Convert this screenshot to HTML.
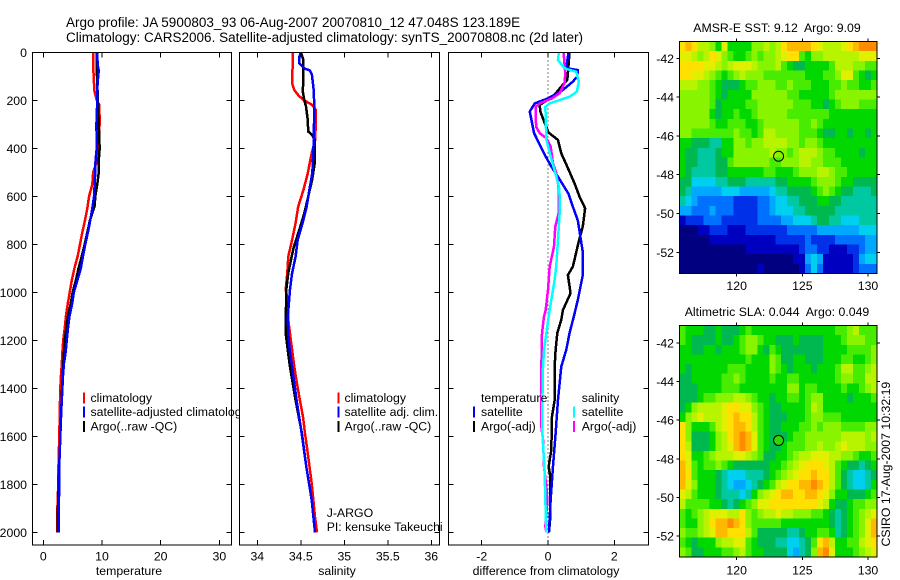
<!DOCTYPE html>
<html>
<head>
<meta charset="utf-8">
<title>Argo profile 5900803_93</title>
<style>
html,body{margin:0;padding:0;background:#fff;}
svg{display:block;}
text{font-family:"Liberation Sans",sans-serif;font-size:12.3px;fill:#000;white-space:pre;}
</style>
</head>
<body>
<svg id="chart" width="900" height="580" viewBox="0 0 900 580" xmlns="http://www.w3.org/2000/svg">
<rect width="900" height="580" fill="#fff"/>
<text x="66" y="27" style="font-size:13.5px">Argo profile: JA 5900803_93 06-Aug-2007 20070810_12 47.048S 123.189E</text>
<text x="66" y="42" style="font-size:13.5px">Climatology: CARS2006. Satellite-adjusted climatology: synTS_20070808.nc (2d later)</text>
<text transform="translate(890,546.5) rotate(-90)">CSIRO 17-Aug-2007 10:32:19</text>
</svg>
<script>
// ---- shared axis ticks ----
const depthTicks = [0,200,400,600,800,1000,1200,1400,1600,1800,2000];
const tempTicks = [0,10,20,30];
const salTicks = [34,34.5,35,35.5,36];
const diffTicks = [-2,0,2];
const lonTicks = [120,125,130];
const latTicks = [-42,-44,-46,-48,-50,-52];

// ---- temperature panel ----
const tempClimDepth = [0,60,160,180,200,220,300,400,450,500,550,600,650,700,750,800,850,900,950,1000,1050,1100,1150,1200,1250,1300,1350,1400,1500,1600,1700,1800,1900,2000];
const tempClimValues = [8.5,8.5,8.7,8.9,9.1,9.55,9.6,9.3,9.2,8.5,8.35,7.8,7.5,7.1,6.65,6.25,5.85,5.3,4.85,4.5,4.15,3.85,3.65,3.4,3.25,3.15,3.0,2.9,2.8,2.73,2.6,2.55,2.4,2.4];
const tempSatDepth = [0,50,75,100,150,200,300,400,450,500,550,600,650,700,750,800,850,900,950,1000,1050,1100,1150,1200,1250,1300,1350,1400,1500,1600,1700,1800,1900,2000];
const tempSatValues = [9.2,9.25,9.45,9.35,9.2,9.2,9.05,9.1,8.9,8.85,8.75,8.65,8.35,8.0,7.6,7.15,6.75,6.4,5.8,5.2,4.9,4.45,4.2,4.0,3.8,3.5,3.35,3.25,3.05,2.9,2.75,2.7,2.65,2.65];
const tempArgoDepth = [0,100,200,300,400,450,500,550,600,640,700,800,850,900,950,1000,1050,1100,1200,1300,1400,1500,1600,1700,1900,2000];
const tempArgoValues = [9.1,9.15,9.3,9.45,9.6,9.45,9.45,9.2,8.85,8.75,7.95,7.05,6.55,6.0,5.55,5.0,4.65,4.2,3.65,3.4,3.2,3.05,2.9,2.75,2.5,2.5];

// ---- salinity panel ----
const salClimDepth = [0,129,157,178,199,219,240,365,420,504,574,643,712,782,851,920,990,1032,1115,1170,1240,1310,1380,1450,1518,1588,1657,1726,1796,1865,1935,2000];
const salClimValues = [34.41,34.40,34.425,34.47,34.53,34.63,34.674,34.667,34.625,34.58,34.53,34.47,34.44,34.40,34.356,34.345,34.326,34.35,34.356,34.375,34.40,34.425,34.456,34.49,34.525,34.548,34.575,34.60,34.625,34.644,34.663,34.686];
const salSatDepth = [0,18,46,67,76,94,157,226,337,420,504,574,643,712,782,851,920,990,1060,1100,1170,1240,1310,1450,1588,1726,1865,2000];
const salSatValues = [34.5,34.483,34.483,34.54,34.605,34.628,34.648,34.655,34.65,34.644,34.632,34.598,34.567,34.52,34.464,34.44,34.40,34.375,34.36,34.349,34.356,34.372,34.40,34.452,34.51,34.563,34.625,34.663];
const salArgoDepth = [0,32,129,157,199,226,282,330,344,365,462,532,671,740,810,851,920,990,1060,1170,1240,1310,1450,1588,1726,1865,2000];
const salArgoValues = [34.5,34.53,34.53,34.52,34.54,34.56,34.58,34.585,34.63,34.66,34.66,34.63,34.54,34.483,34.42,34.395,34.356,34.333,34.33,34.326,34.35,34.375,34.44,34.513,34.563,34.625,34.663];

// ---- difference panel ----
const diffTempSatDepth = [0,46,67,74,101,122,157,192,213,247,337,434,476,518,590,632,701,771,833,928,1032,1100,1170,1240,1310,1450,1588,1726,1865,2000];
const diffTempSatValues = [0.62,0.57,0.58,0.9,0.88,0.75,0.45,0,-0.4,-0.55,-0.42,-0.07,0.1,0.3,0.62,0.72,0.9,0.98,1.05,1.05,0.9,0.78,0.65,0.55,0.4,0.3,0.23,0.15,0.08,0.03];
const diffTempArgoDepth = [0,88,115,143,185,219,247,295,335,365,421,476,546,601,650,725,793,893,928,1004,1074,1115,1170,1240,1310,1450,1518,1657,1726,1768,1935,2000];
const diffTempArgoValues = [0.65,0.6,0.58,0.4,0.15,-0.25,-0.23,-0.1,0.02,0.3,0.4,0.58,0.8,0.95,1.12,1.05,0.92,0.75,0.6,0.68,0.45,0.4,0.28,0.23,0.2,0.2,0.12,0.1,0.02,0.07,0.07,0.03];
const diffSalArgoDepth = [0,88,129,171,192,213,227,310,337,358,393,462,503,574,671,726,810,893,990,1074,1100,1170,1310,1450,1560,1615,1726,1810,1865,1976,2000];
const diffSalArgoValues = [0.47,0.52,0.5,0.35,0.12,-0.25,-0.37,-0.36,-0.25,-0.05,0.08,0.15,0.25,0.33,0.32,0.22,0.18,0.05,0,-0.07,-0.12,-0.18,-0.2,-0.2,-0.2,-0.15,-0.12,-0.05,-0.02,-0.08,-0.05];
const diffSalSatDepth = [0,32,67,81,122,164,185,199,213,227,268,365,434,503,560,615,671,782,890,948,1032,1100,1170,1240,1310,1450,1588,1657,1754,1865,2000];
const diffSalSatValues = [0.33,0.3,0.5,0.85,0.93,0.87,0.65,0.35,0.05,-0.08,-0.07,-0.05,0.08,0.22,0.33,0.36,0.35,0.3,0.25,0.2,0.1,0.02,-0.05,-0.12,-0.15,-0.17,-0.17,-0.14,-0.1,-0.08,-0.05];

// ---- map grids (colour levels, north to south, west to east) ----
const sstGrid = [
[13,14,13,11,11,10,8,12,8,8,8,8,10,10,11,10,11,13,14,14,14,14,13,12,11,11,11,12,13,14,15,15,15],
[12,12,11,10,11,13,12,10,9,8,8,9,10,9,10,10,11,12,13,13,9,8,10,10,11,11,11,11,11,11,12,12,12],
[13,13,13,13,12,12,11,10,11,12,12,12,11,10,10,10,11,9,8,7,7,8,8,8,8,9,11,11,11,10,10,9,9],
[13,13,12,12,11,10,9,8,9,10,11,10,10,10,9,9,9,9,9,9,9,8,8,8,9,9,10,12,12,9,8,7,8],
[11,11,11,10,10,9,8,7,7,7,8,9,9,10,10,10,9,9,10,9,9,9,8,8,8,9,9,10,9,9,8,8,9],
[10,10,10,10,10,9,8,7,8,8,8,8,10,10,10,10,10,10,9,9,8,8,8,8,8,9,10,10,10,10,10,10,10],
[10,10,10,10,10,9,7,8,8,8,8,9,9,10,10,10,10,10,10,9,9,9,8,8,7,8,9,10,10,10,9,9,9],
[10,10,10,10,10,8,7,8,8,9,8,8,9,10,10,10,10,10,9,9,9,9,9,9,9,8,8,8,8,8,8,8,8],
[10,10,10,10,10,9,8,8,9,9,9,8,8,9,10,10,10,10,10,10,9,9,10,9,8,8,8,8,8,8,8,8,8],
[10,10,9,9,9,9,9,9,9,10,9,9,8,9,11,11,10,10,10,10,9,9,9,8,7,7,8,8,7,8,8,7,8],
[8,8,7,7,7,6,6,8,8,10,10,9,10,10,11,11,11,11,10,10,9,10,10,9,8,8,8,8,8,8,8,8,8],
[8,7,7,6,6,6,7,8,8,10,10,10,10,10,10,11,10,10,9,10,11,11,11,10,9,9,8,8,8,8,7,8,8],
[8,7,7,6,6,6,7,7,9,10,10,10,10,10,10,9,9,10,10,10,11,11,10,10,9,9,9,8,8,8,8,8,8],
[8,7,6,6,6,6,7,7,8,8,8,8,8,8,9,9,8,8,8,9,10,10,10,11,11,10,9,9,8,8,8,8,8],
[7,7,5,5,5,5,6,6,7,7,7,6,6,6,6,6,7,7,8,8,8,8,9,10,10,10,9,8,8,7,7,7,7],
[7,6,4,4,4,4,4,5,5,5,4,4,4,4,4,5,6,6,7,7,7,7,8,9,10,9,8,7,7,6,6,6,7],
[6,5,4,3,3,3,3,3,3,2,2,2,2,3,3,4,5,5,6,6,7,7,7,8,8,7,7,6,6,6,6,6,6],
[4,4,3,3,3,4,3,3,3,2,2,2,2,3,3,4,5,5,5,6,6,7,7,7,7,7,6,6,6,6,6,6,6],
[1,2,2,2,3,3,3,2,2,2,2,2,2,3,3,3,3,4,4,5,5,5,6,7,7,6,6,5,5,5,6,6,6],
[0,0,0,1,1,2,2,2,1,1,1,2,2,2,2,2,2,2,3,3,3,3,3,4,4,4,4,4,4,4,5,5,5],
[0,0,0,0,0,1,1,1,1,1,1,1,1,1,1,1,2,2,2,2,2,3,2,2,2,2,3,3,3,3,3,4,4],
[0,0,0,0,0,0,0,0,0,0,0,1,1,1,1,1,1,1,1,1,2,3,3,2,2,1,1,1,2,2,3,4,4],
[0,0,0,0,0,0,0,0,0,0,0,0,0,0,0,0,0,0,0,1,1,4,5,4,1,1,1,1,1,2,4,5,5],
[0,0,0,0,0,0,0,0,0,0,0,0,0,1,0,0,0,0,0,0,1,3,5,3,1,1,1,1,1,2,3,3,3]
];
const slaGrid = [
[9,8,8,8,7,7,8,7,7,7,8,9,8,8,8,8,8,8,8,8,8,8,8,8,8,8,9,9,10,11,9,9,9],
[9,8,7,7,7,7,8,7,7,8,9,10,10,9,8,8,7,7,7,8,7,7,7,7,8,8,8,9,10,10,10,9,9],
[8,8,7,7,8,8,7,8,8,8,9,10,10,8,7,9,8,7,7,7,7,7,7,7,8,8,8,8,9,9,9,9,10],
[8,8,8,8,8,8,8,8,8,8,8,9,8,8,8,10,9,7,7,8,8,7,7,7,8,8,8,9,9,8,8,9,10],
[8,7,8,8,8,8,8,8,9,9,9,8,8,8,8,10,9,8,7,8,8,8,7,8,8,8,9,11,11,9,9,10,11],
[7,7,8,8,8,8,8,9,9,10,9,8,8,8,8,9,8,8,9,9,8,8,8,8,8,8,9,10,10,9,9,11,11],
[7,7,7,8,8,8,8,9,9,9,8,8,8,8,8,8,8,8,10,10,8,9,9,8,8,8,8,9,8,8,9,10,11],
[7,7,7,8,9,9,10,10,10,11,11,10,9,8,8,7,8,8,9,9,8,9,10,10,8,8,8,8,7,8,8,8,9],
[7,8,10,11,11,11,11,12,13,13,12,12,10,9,8,7,7,8,8,8,8,9,11,10,8,8,8,8,8,8,8,8,8],
[8,10,11,12,11,11,11,12,13,14,13,13,11,9,8,7,7,7,8,8,8,9,10,10,9,9,9,8,8,8,8,8,8],
[13,10,8,8,8,9,11,12,13,14,14,13,11,9,8,7,7,8,8,8,9,9,10,9,10,10,10,9,9,9,9,10,10],
[13,10,7,7,7,8,10,11,13,14,15,14,12,9,8,7,7,7,8,9,9,10,10,10,10,10,10,11,11,11,11,10,11],
[13,11,7,7,7,8,10,11,12,14,15,14,12,9,8,7,7,8,9,9,9,10,10,11,10,10,11,12,11,11,11,10,10],
[13,12,8,8,9,10,11,11,11,12,12,11,10,9,7,7,8,8,9,10,11,11,12,12,12,11,11,10,10,9,8,8,9],
[14,12,9,8,9,9,10,9,8,7,7,7,7,7,7,8,8,9,10,11,12,13,13,13,12,11,9,8,7,7,6,7,8],
[14,13,9,8,8,8,7,6,5,5,5,6,6,6,7,8,9,10,11,12,13,13,14,13,13,11,9,7,6,5,5,6,7],
[14,12,10,8,8,8,7,6,5,4,4,5,6,7,8,9,11,12,13,13,14,14,15,14,13,11,9,7,6,5,5,6,8],
[12,11,9,8,8,8,7,6,6,6,5,6,8,10,11,12,13,14,14,13,13,14,14,13,12,10,8,8,7,7,7,8,9],
[11,9,9,9,9,8,8,7,6,7,8,9,10,12,12,13,13,13,13,13,13,13,13,12,11,8,7,7,8,9,9,10,10],
[9,8,9,10,11,12,12,12,11,11,13,10,9,10,11,11,12,11,11,10,10,10,9,9,8,7,6,7,8,9,10,11,12],
[9,8,8,10,11,13,14,14,15,14,13,10,9,9,9,9,9,8,8,8,8,8,8,8,8,7,6,7,8,9,10,12,14],
[10,9,9,10,11,12,14,14,13,13,13,11,9,7,7,7,7,7,6,6,7,8,8,9,9,8,6,7,8,9,10,12,14],
[9,8,7,8,8,8,10,11,11,12,12,9,8,7,7,7,6,6,5,5,6,7,9,13,14,11,8,8,9,9,11,12,13],
[10,9,7,7,8,8,8,9,9,10,11,9,8,8,7,7,7,7,5,4,6,7,10,14,15,12,8,8,8,9,10,11,12]
];
const floatLon = [123.189];
const floatLat = [-47.048];
</script>
<script>
const SVG_NS = 'http://www.w3.org/2000/svg';
const root = document.getElementById('chart');
const levelColors = ['#000080','#0000c0','#0030e8','#0070ff','#00a8ff','#00d0f0','#00c8a0','#00b850','#00d800','#48ec00','#88f400','#b8f400','#e0f000','#ffe000','#ffb800','#ff8c00'];

function make(tag, parent, attrs) {
  const el = document.createElementNS(SVG_NS, tag);
  for (const k in attrs) el.setAttribute(k, attrs[k]);
  parent.appendChild(el);
  return el;
}
function linear(d0, p0, d1, p1) {
  return function (v) { return p0 + (v - d0) * (p1 - p0) / (d1 - d0); };
}
function label(parent, name, x, y, str, anchor) {
  const t = make('text', parent, { x: x, y: y, 'text-anchor': anchor || 'start' });
  
  
  t.textContent = str;
  return t;
}
function tick(parent, x1, y1, x2, y2) {
  const l = make('line', parent, { x1: x1, y1: y1, x2: x2, y2: y2, stroke: '#000', 'stroke-width': 1, 'shape-rendering': 'crispEdges' });
  
  
}
function frame(parent, box, fill) {
  const r = make('rect', parent, { x: box.l, y: box.t, width: box.r - box.l, height: box.b - box.t, fill: fill, stroke: fill === 'none' ? '#000' : 'none', 'stroke-width': 1, 'shape-rendering': 'crispEdges' });
  
  
}
function seriesLine(parent, name, depths, values, xFn, yFn, color) {
  const pts = depths.map(function (d, i) { return xFn(values[i]).toFixed(2) + ',' + yFn(d).toFixed(2); }).join(' ');
  const p = make('polyline', parent, { points: pts, fill: 'none', stroke: color, 'stroke-width': 2.5, 'stroke-linejoin': 'round', 'shape-rendering': 'crispEdges' });
  
  
}
function legendBar(parent, x, yc, color) {
  const r = make('rect', parent, { x: x, y: yc - 5.5, width: 2, height: 11, fill: color, 'shape-rendering': 'crispEdges' });
  
  
}

const TOP = 52.3, BOTTOM = 545;
const depthY = linear(0, 52.3, 2000, 532.3);

function profilePanel(name, l, r, xFn, xTicks, xLabel, xLabelX, showDepthLabels) {
  const g = make('g', root, {});
  
  
  const box = { l: l, r: r, t: TOP, b: BOTTOM };
  frame(g, box, '#fff');
  return { g: g, box: box, xFn: xFn, xTicks: xTicks, xLabel: xLabel, xLabelX: xLabelX, showDepthLabels: showDepthLabels };
}
function finishPanel(p) {
  const g = p.g, box = p.box;
  frame(g, box, 'none');
  depthTicks.forEach(function (d) {
    const y = depthY(d);
    tick(g, box.r - 5, y, box.r, y);
    tick(g, box.l, y, box.l + 5, y);
    if (p.showDepthLabels) label(g, 'depth-tick-label', 27, y + 4.5, String(d), 'end');
  });
  p.xTicks.forEach(function (v) {
    const x = p.xFn(v);
    tick(g, x, box.t, x, box.t + 5);
    tick(g, x, box.b - 5, x, box.b);
    label(g, 'x-tick-label', x, 560.5, String(v), 'middle');
  });
  label(g, 'x-axis-title', p.xLabelX, 575, p.xLabel, 'middle');
}

// Temperature panel
const tempX = linear(0, 43.3, 30, 219.4);
const p1 = profilePanel('temperature-panel', 32.5, 231.5, tempX, tempTicks, 'temperature', 129, true);
seriesLine(p1.g, 'temperature-climatology-line', tempClimDepth, tempClimValues, tempX, depthY, '#ff0000');
seriesLine(p1.g, 'temperature-argo-line', tempArgoDepth, tempArgoValues, tempX, depthY, '#000000');
seriesLine(p1.g, 'temperature-satellite-line', tempSatDepth, tempSatValues, tempX, depthY, '#0000ff');
legendBar(p1.g, 83, 398, '#ff0000');
legendBar(p1.g, 83, 412, '#0000ff');
legendBar(p1.g, 83, 426.5, '#000000');
label(p1.g, 'legend-climatology', 90.5, 402, 'climatology');
label(p1.g, 'legend-satellite-adjusted', 90.5, 416, 'satellite-adjusted climatology');
label(p1.g, 'legend-argo', 90.5, 430.5, 'Argo(..raw -QC)');
finishPanel(p1);

// Salinity panel
const salX = linear(34, 257.3, 36, 431.3);
const p2 = profilePanel('salinity-panel', 239.5, 439.5, salX, salTicks, 'salinity', 337, false);
seriesLine(p2.g, 'salinity-climatology-line', salClimDepth, salClimValues, salX, depthY, '#ff0000');
seriesLine(p2.g, 'salinity-argo-line', salArgoDepth, salArgoValues, salX, depthY, '#000000');
seriesLine(p2.g, 'salinity-satellite-line', salSatDepth, salSatValues, salX, depthY, '#0000ff');
legendBar(p2.g, 337.5, 398, '#ff0000');
legendBar(p2.g, 337.5, 412, '#0000ff');
legendBar(p2.g, 337.5, 426.5, '#000000');
label(p2.g, 'legend-climatology', 344.5, 402, 'climatology');
label(p2.g, 'legend-satellite-adjusted', 344.5, 416, 'satellite adj. clim.');
label(p2.g, 'legend-argo', 344.5, 430.5, 'Argo(..raw -QC)');
label(p2.g, 'float-program-label', 326.7, 517, 'J-ARGO');
label(p2.g, 'principal-investigator-label', 326.7, 531, 'PI: kensuke Takeuchi');
finishPanel(p2);

// Difference panel
const diffX = linear(-2, 481.7, 2, 614.3);
const p3 = profilePanel('difference-panel', 448.5, 648.5, diffX, diffTicks, 'difference from climatology', 546, false);
const zeroLine = make('line', p3.g, { x1: diffX(0), y1: TOP, x2: diffX(0), y2: BOTTOM, stroke: '#000', 'stroke-width': 1, 'stroke-dasharray': '1 3', 'shape-rendering': 'crispEdges' });


seriesLine(p3.g, 'difference-temperature-argo-line', diffTempArgoDepth, diffTempArgoValues, diffX, depthY, '#000000');
seriesLine(p3.g, 'difference-temperature-satellite-line', diffTempSatDepth, diffTempSatValues, diffX, depthY, '#0000ff');
seriesLine(p3.g, 'difference-salinity-argo-line', diffSalArgoDepth, diffSalArgoValues, diffX, depthY, '#ff00ff');
seriesLine(p3.g, 'difference-salinity-satellite-line', diffSalSatDepth, diffSalSatValues, diffX, depthY, '#00ffff');
legendBar(p3.g, 473, 412, '#0000ff');
legendBar(p3.g, 473, 426.5, '#000000');
legendBar(p3.g, 573, 412, '#00ffff');
legendBar(p3.g, 573, 426.5, '#ff00ff');
label(p3.g, 'legend-temperature-heading', 481, 402, 'temperature');
label(p3.g, 'legend-temperature-satellite', 481, 416, 'satellite');
label(p3.g, 'legend-temperature-argo', 481, 430.5, 'Argo(-adj)');
label(p3.g, 'legend-salinity-heading', 581.7, 402, 'salinity');
label(p3.g, 'legend-salinity-satellite', 581.7, 416, 'satellite');
label(p3.g, 'legend-salinity-argo', 581.7, 430.5, 'Argo(-adj)');
finishPanel(p3);

// Maps
function mapPanel(name, grid, box, title, titleY, xLabelY, latY, latFromY, markerFill) {
  const g = make('g', root, {});
  
  
  const lonX = linear(120, 736.7, 130, 868);
  const lonFromX = linear(736.7, 120, 868, 130);
  const rows = grid.length, cols = grid[0].length;
  const lonMin = lonFromX(box.l), lonMax = lonFromX(box.r);
  const latMax = latFromY(box.t), latMin = latFromY(box.b);
  const dLon = (lonMax - lonMin) / cols;
  const dLat = (latMax - latMin) / rows;
  grid.forEach(function (row, j) {
    row.forEach(function (level, i) {
      const x0 = lonX(lonMin + i * dLon), x1 = lonX(lonMin + (i + 1) * dLon);
      const y0 = latY(latMax - j * dLat), y1 = latY(latMax - (j + 1) * dLat);
      const c = make('rect', g, { x: x0, y: y0, width: x1 - x0 + 0.4, height: y1 - y0 + 0.4, fill: levelColors[level], 'shape-rendering': 'crispEdges' });
      
      
    });
  });
  frame(g, box, 'none');
  lonTicks.forEach(function (v) {
    const x = lonX(v);
    tick(g, x, box.t - 3, x, box.t);
    tick(g, x, box.b, x, box.b + 3);
    label(g, 'longitude-tick-label', x, xLabelY, String(v), 'middle');
  });
  latTicks.forEach(function (v) {
    const y = latY(v);
    tick(g, box.r, y, box.r + 3, y);
    tick(g, box.l - 3, y, box.l, y);
    label(g, 'latitude-tick-label', 674, y + 4.5, String(v), 'end');
  });
  label(g, 'map-title', 777, titleY, title, 'middle');
  const m = make('circle', g, { cx: lonX(floatLon[0]), cy: latY(floatLat[0]), r: 5, fill: markerFill, stroke: '#000', 'stroke-width': 1 });
  
  
}
const sstLatY = linear(-42, 58.3, -52, 252.3);
const sstLatFromY = linear(58.3, -42, 252.3, -52);
const slaLatY = linear(-42, 343, -52, 536);
const slaLatFromY = linear(343, -42, 536, -52);
mapPanel('sst-map', sstGrid, { l: 679.5, r: 877, t: 41.5, b: 273.5 }, 'AMSR-E SST: 9.12  Argo: 9.09', 32, 290, sstLatY, sstLatFromY, 'none');
mapPanel('sla-map', slaGrid, { l: 679.5, r: 877, t: 325.5, b: 557 }, 'Altimetric SLA: 0.044  Argo: 0.049', 316, 574.5, slaLatY, slaLatFromY, '#30d800');
</script>
</body>
</html>
